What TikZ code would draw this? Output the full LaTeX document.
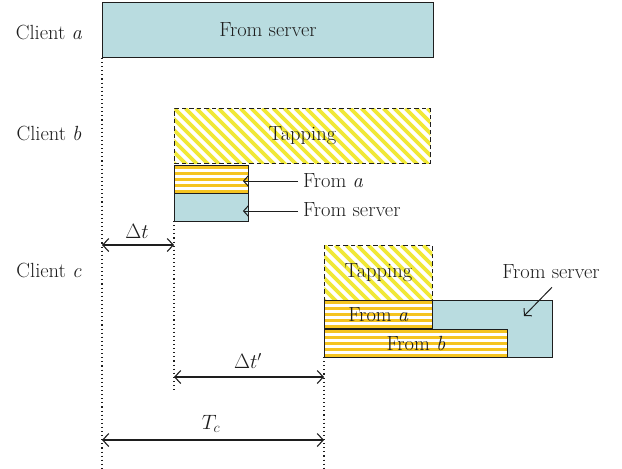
\documentclass[tikz,border=0pt]{standalone}
\usetikzlibrary{arrows.meta}
\definecolor{srv}{RGB}{185,220,224}
\definecolor{tapy}{RGB}{240,232,55}
\definecolor{stry}{RGB}{245,196,32}
\definecolor{ink}{RGB}{30,30,30}
\tikzset{
  txt/.style={font=\fontsize{20.5}{24}\selectfont, text=ink, inner sep=0pt},
  boxbase/.style={draw=ink, line width=0.9pt, anchor=north west, inner sep=0pt, font=\fontsize{20.5}{24}\selectfont, text=ink},
  srvbox/.style={boxbase, fill=srv},
  tapbox/.style={boxbase, fill=white, dash pattern=on 4.5pt off 3pt,
    path picture={\foreach \i in {-12,...,30}
      \draw[tapy, line width=3.8pt, solid] ([xshift={\i*11pt}]path picture bounding box.north west) -- +(90pt,-90pt);}},
  strbox/.style={boxbase, fill=white,
    path picture={\foreach \i in {0,...,8}
      \draw[stry, line width=3pt, solid] ([yshift={-2.5pt-\i*6pt}]path picture bounding box.north west) -- +(300pt,0);}},
  dotln/.style={ink, line width=1.1pt, dash pattern=on 1.1pt off 3pt},
  arr/.style={ink, line width=1pt, -{Straight Barb[length=5pt,width=11pt]}},
  dimarr/.style={ink, line width=1.1pt, {Straight Barb[length=6pt,width=13pt]}-{Straight Barb[length=6pt,width=13pt]}}
}
\begin{document}
\begin{tikzpicture}[x=1pt,y=-1pt]
\useasboundingbox (0,0) rectangle (622,469);
% labels
\node[txt] (la) at (49,32) {Client \textit{a}};
\node[txt] (lb) at (49,133) {Client \textit{b}};
\node[txt] (lc) at (49,270) {Client \textit{c}};
% client a
\node[srvbox, minimum width=331pt, minimum height=55pt] (asrv) at (102,2) {From server};
% client b
\node[tapbox, minimum width=256pt, minimum height=55pt] (btap) at (174,108) {Tapping};
\node[strbox, minimum width=74pt, minimum height=28pt] (bfa) at (174,165) {};
\node[srvbox, minimum width=74pt, minimum height=28pt] (bsrv) at (174,193) {};
\node[txt, anchor=west] (bfalbl) at (303,181) {From \textit{a}};
\node[txt, anchor=west] (bsrvlbl) at (303,210) {From server};
\draw[arr] ([xshift=-5pt]bfalbl.west) -- ([xshift=-6pt]bfalbl.west -| bfa.east) ;
\draw[arr] ([xshift=-5pt,yshift=-1pt]bsrvlbl.west) -- ([xshift=-6pt,yshift=-1pt]bsrvlbl.west -| bsrv.east);
% client c
\node[tapbox, minimum width=108pt, minimum height=55pt] (ctap) at (324,245) {Tapping};
\node[srvbox, minimum width=228pt, minimum height=57pt] (csrv) at (324,300) {};
\node[strbox, minimum width=108pt, minimum height=28pt] (cfa) at (324,300) {From \textit{a}};
\node[strbox, minimum width=183pt, minimum height=28pt] (cfb) at (324,329) {From \textit{b}};
\node[txt] (csrvlbl) at (551,272) {From server};
\coordinate (csend) at (524,316);
\draw[arr] ([xshift=1pt,yshift=-8pt]csrvlbl.south) -- (csend);
% dotted guide lines
\coordinate (g1b) at (102,469);
\coordinate (g2t) at (174,221);
\coordinate (g2b) at (174,393);
\coordinate (g3t) at (324,357);
\coordinate (g3b) at (324,469);
\draw[dotln] (asrv.south west) -- (g1b);
\draw[dotln] (g2t) -- (g2b);
\draw[dotln] (g3t) -- (g3b);
% dimensions
\coordinate (dt1) at (102,245);
\coordinate (dt2) at (174,245);
\draw[dimarr] (dt1) -- (dt2);
\node[txt] (dtl) at (137,231) {$\Delta t$};
\coordinate (dp1) at (174,377);
\coordinate (dp2) at (324,377);
\draw[dimarr] (dp1) -- (dp2);
\node[txt] (dpl) at (248,361) {$\Delta t'$};
\coordinate (tc1) at (102,440);
\coordinate (tc2) at (324,440);
\draw[dimarr] (tc1) -- (tc2);
\node[txt] (tcl) at (211,424) {$T_c$};
\end{tikzpicture}
\end{document}
